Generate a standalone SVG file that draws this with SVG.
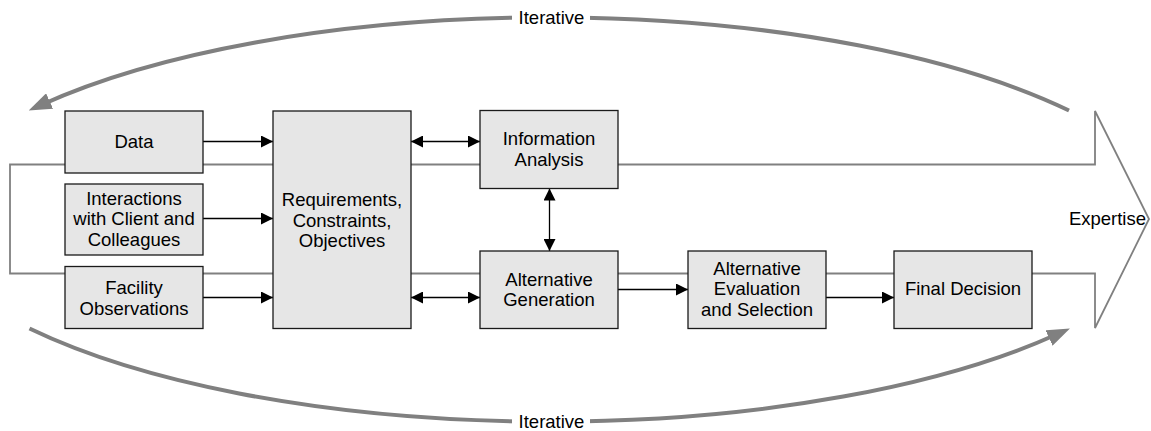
<svg xmlns="http://www.w3.org/2000/svg" width="1151" height="431" viewBox="0 0 1151 431">
<defs>
<style>
.box{fill:#e6e6e6;stroke:#1a1a1a;stroke-width:1.3}
.lbl{font-family:"Liberation Sans",Arial,sans-serif;font-size:18.5px;fill:#000;text-anchor:middle}
.conn{stroke:#000;stroke-width:1.3;fill:none;marker-end:url(#ah)}
.dbl{marker-start:url(#ah)}
.iter{stroke:#808080;stroke-width:4;fill:none;marker-end:url(#bigah)}
.exp{stroke:#808080;stroke-width:1.8;fill:none}
</style>
<marker id="ah" markerUnits="userSpaceOnUse" markerWidth="12" markerHeight="12" refX="12" refY="6" orient="auto-start-reverse" viewBox="0 0 12 12">
<path d="M0,0 L12,6 L0,12 z" fill="#000"/>
</marker>
<marker id="bigah" markerUnits="userSpaceOnUse" markerWidth="23" markerHeight="17" refX="10" refY="8.5" orient="auto" viewBox="0 0 23 17">
<path d="M0,0 L23,8.5 L0,17 z" fill="#808080"/>
</marker>
</defs>
<rect width="1151" height="431" fill="#fff"/>

<g id="expertise">
<polygon class="exp" points="10,164.5 1095,164.5 1095,111 1149,219 1095,328 1095,273.5 10,273.5"/>
<text class="lbl" x="1146" y="225" style="text-anchor:end">Expertise</text>
</g>

<g id="iterative-top">
<path class="iter" d="M1069,110.5 A645,228 0 0 0 40.5,105.2"/>
<rect x="512" y="7" width="78" height="21" fill="#fff"/>
<text class="lbl" x="551.5" y="23.5">Iterative</text>
</g>
<g id="iterative-bottom">
<path class="iter" d="M29.5,328.5 A645,228 0 0 0 1058.1,333.8"/>
<rect x="512" y="411" width="78" height="20" fill="#fff"/>
<text class="lbl" x="551.5" y="428">Iterative</text>
</g>

<g id="connectors">
<line class="conn" x1="203" y1="141.5" x2="273" y2="141.5"/>
<line class="conn" x1="203" y1="218.5" x2="273" y2="218.5"/>
<line class="conn" x1="203" y1="297.5" x2="273" y2="297.5"/>
<line class="conn dbl" x1="411" y1="141.5" x2="480" y2="141.5"/>
<line class="conn dbl" x1="411" y1="297.5" x2="480" y2="297.5"/>
<line class="conn dbl" x1="549.5" y1="188.5" x2="549.5" y2="251"/>
<line class="conn" x1="618" y1="289.5" x2="688" y2="289.5"/>
<line class="conn" x1="826" y1="297.5" x2="894" y2="297.5"/>
</g>

<g id="data">
<rect class="box" x="65" y="111" width="138" height="62"/>
<text class="lbl" x="134" y="147.5">Data</text>
</g>
<g id="interactions">
<rect class="box" x="65" y="184" width="138" height="71"/>
<text class="lbl" x="134" y="204.5">Interactions</text>
<text class="lbl" x="134" y="225">with Client and</text>
<text class="lbl" x="134" y="245.5">Colleagues</text>
</g>
<g id="facility">
<rect class="box" x="65" y="266.5" width="138" height="62"/>
<text class="lbl" x="134" y="294">Facility</text>
<text class="lbl" x="134" y="314.5">Observations</text>
</g>
<g id="requirements">
<rect class="box" x="273" y="111" width="138" height="217.5"/>
<text class="lbl" x="342" y="206">Requirements,</text>
<text class="lbl" x="342" y="226.5">Constraints,</text>
<text class="lbl" x="342" y="247">Objectives</text>
</g>
<g id="information-analysis">
<rect class="box" x="480" y="110.5" width="138" height="78"/>
<text class="lbl" x="549" y="145">Information</text>
<text class="lbl" x="549" y="165.5">Analysis</text>
</g>
<g id="alternative-generation">
<rect class="box" x="480" y="251" width="138" height="77.5"/>
<text class="lbl" x="549" y="285.5">Alternative</text>
<text class="lbl" x="549" y="306">Generation</text>
</g>
<g id="alternative-evaluation">
<rect class="box" x="688" y="251" width="138" height="77.5"/>
<text class="lbl" x="757" y="274.5">Alternative</text>
<text class="lbl" x="757" y="295">Evaluation</text>
<text class="lbl" x="757" y="315.5">and Selection</text>
</g>
<g id="final-decision">
<rect class="box" x="894" y="251" width="138" height="77.5"/>
<text class="lbl" x="963" y="295">Final Decision</text>
</g>
</svg>
